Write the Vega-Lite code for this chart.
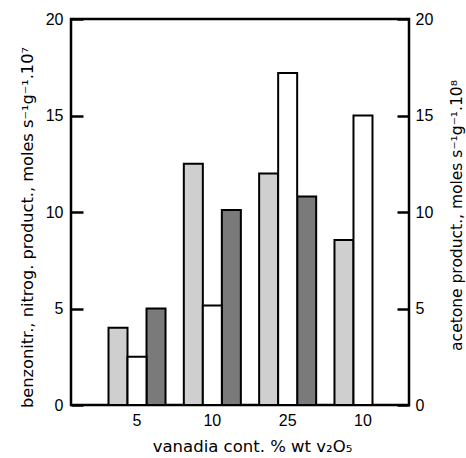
{
  "$schema": "https://vega.github.io/schema/vega-lite/v6.json",
  "width": 338,
  "height": 386,
  "autosize": {"type": "none"},
  "padding": {"left": 71, "top": 19, "right": 57, "bottom": 53},
  "background": "white",
  "config": {
    "font": "Liberation Sans",
    "view": {"stroke": "black", "strokeWidth": 2.5},
    "axis": {
      "domain": false,
      "grid": false,
      "labelColor": "black",
      "titleColor": "black",
      "labelFont": "Liberation Sans",
      "titleFont": "DejaVu Sans",
      "titleFontWeight": "normal",
      "tickColor": "black"
    }
  },
  "data": {
    "values": [
      {"g": "5", "s": "benzonitrile", "v": 4.0},
      {"g": "5", "s": "acetone", "v": 2.5},
      {"g": "5", "s": "nitrogen", "v": 5.0},
      {"g": "10", "s": "benzonitrile", "v": 12.5},
      {"g": "10", "s": "acetone", "v": 5.15},
      {"g": "10", "s": "nitrogen", "v": 10.1},
      {"g": "25", "s": "benzonitrile", "v": 12.0},
      {"g": "25", "s": "acetone", "v": 17.2},
      {"g": "25", "s": "nitrogen", "v": 10.8},
      {"g": "10 (2)", "s": "benzonitrile", "v": 8.55},
      {"g": "10 (2)", "s": "acetone", "v": 15.0}
    ]
  },
  "encoding": {
    "x": {
      "field": "g",
      "type": "nominal",
      "sort": ["5", "10", "25", "10 (2)"],
      "scale": {"range": [37.5, 320.5], "paddingInner": 0.243, "paddingOuter": 0},
      "axis": {
        "labelExpr": "split(datum.label, ' ')[0]",
        "labelAngle": 0,
        "ticks": false,
        "labelFontSize": 16,
        "labelPadding": 7,
        "title": "vanadia cont. % wt v₂O₅",
        "titleFontSize": 16.5,
        "titleBaseline": "alphabetic",
        "titleX": 181,
        "titleY": 46
      }
    },
    "xOffset": {
      "field": "s",
      "type": "nominal",
      "scale": {"domain": ["benzonitrile", "acetone", "nitrogen"], "paddingInner": 0, "paddingOuter": 0}
    }
  },
  "layer": [
    {
      "transform": [{"filter": "datum.s !== 'acetone'"}],
      "mark": {"type": "bar", "stroke": "black", "strokeWidth": 2},
      "encoding": {
        "y": {
          "field": "v",
          "type": "quantitative",
          "scale": {"domain": [0, 20], "nice": false},
          "axis": {
            "values": [0, 5, 10, 15, 20],
            "orient": "left",
            "offset": -12,
            "tickSize": 12,
            "tickWidth": 2.5,
            "labelFontSize": 16,
            "labelPadding": 8,
            "title": "benzonitr., nitrog. product., moles s⁻¹g⁻¹.10⁷",
            "titleFontSize": 16.2,
            "titleAngle": 270,
            "titleBaseline": "middle",
            "titleX": -56,
            "titleY": 208
          }
        },
        "fill": {
          "field": "s",
          "type": "nominal",
          "scale": {"domain": ["benzonitrile", "nitrogen"], "range": ["#cfcfcf", "#7a7a7a"]},
          "legend": null
        }
      }
    },
    {
      "transform": [{"filter": "datum.s === 'acetone'"}],
      "mark": {"type": "bar", "stroke": "black", "strokeWidth": 2, "fill": "white"},
      "encoding": {
        "y": {
          "field": "v",
          "type": "quantitative",
          "scale": {"domain": [0, 20], "nice": false},
          "axis": {
            "values": [0, 5, 10, 15, 20],
            "orient": "right",
            "offset": -12,
            "tickSize": 12,
            "tickWidth": 2.5,
            "labelFontSize": 16,
            "labelPadding": 6,
            "title": "acetone product., moles s⁻¹g⁻¹.10⁸",
            "titleAngle": 270,
            "titleFontSize": 15.5,
            "titleBaseline": "middle",
            "titleX": 59,
            "titleY": 196
          }
        }
      }
    }
  ],
  "resolve": {"scale": {"y": "independent", "fill": "independent"}}
}
